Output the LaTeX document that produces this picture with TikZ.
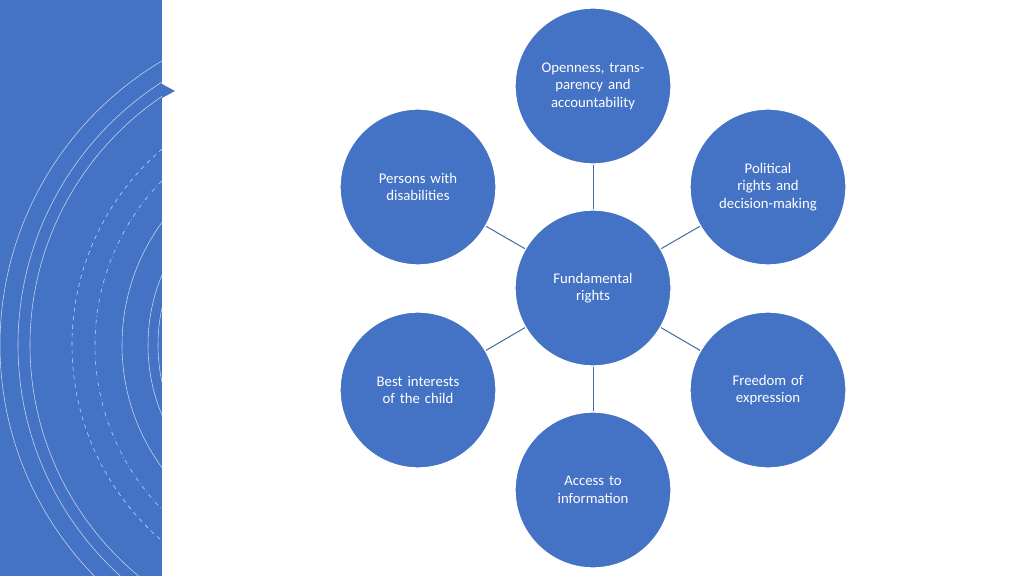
\documentclass[tikz,border=0pt]{standalone}
\usepackage{fontspec}
\setmainfont{Carlito}
\definecolor{accent}{HTML}{4472C4}
\definecolor{linkblue}{HTML}{41689F}
\begin{document}
\begin{tikzpicture}[x=0.025cm, y=-0.025cm,
  topic/.style={circle, fill=accent, draw=white, line width=1pt, minimum size=3.9cm,
    text width=2.6cm, align=center, text=white, font=\fontsize{10.5}{12.5}\selectfont},
  link/.style={draw=linkblue, line width=0.7pt},
  ring/.style={draw=white!70!accent, line width=0.4pt}]
  \useasboundingbox (0,0) rectangle (1024,576);
  % left panel
  \fill[accent] (0,0) rectangle (162,576);
  \fill[accent] (162,84) -- (175,91) -- (162,98) -- cycle;
  \begin{scope}
    \clip (0,0) rectangle (162,576);
    \draw[ring] (330,345) circle (330);
    \draw[ring] (330,345) circle (312);
    \draw[ring] (330,345) circle (300);
    \draw[ring, dashed] (330,345) circle (258);
    \draw[ring, dash dot] (330,345) circle (235);
    \draw[ring] (330,345) circle (208);
    \draw[ring] (330,345) circle (182);
    \draw[ring] (330,345) circle (172);
  \end{scope}
  % circles
  \node[topic] (core) at (593,288) {Fundamental rights};
  \node[topic] (open) at (593,86) {Openness, transparency and accountability};
  \node[topic] (polit) at (768,187) {Political rights and decision-making};
  \node[topic] (free) at (768,390) {Freedom of expression};
  \node[topic] (access) at (593,490) {Access to information};
  \node[topic] (child) at (418,390) {Best interests of the child};
  \node[topic] (disab) at (418,187) {Persons with disabilities};
  \foreach \t in {open, polit, free, access, child, disab}
    \draw[link] (core) -- (\t);
\end{tikzpicture}
\end{document}
